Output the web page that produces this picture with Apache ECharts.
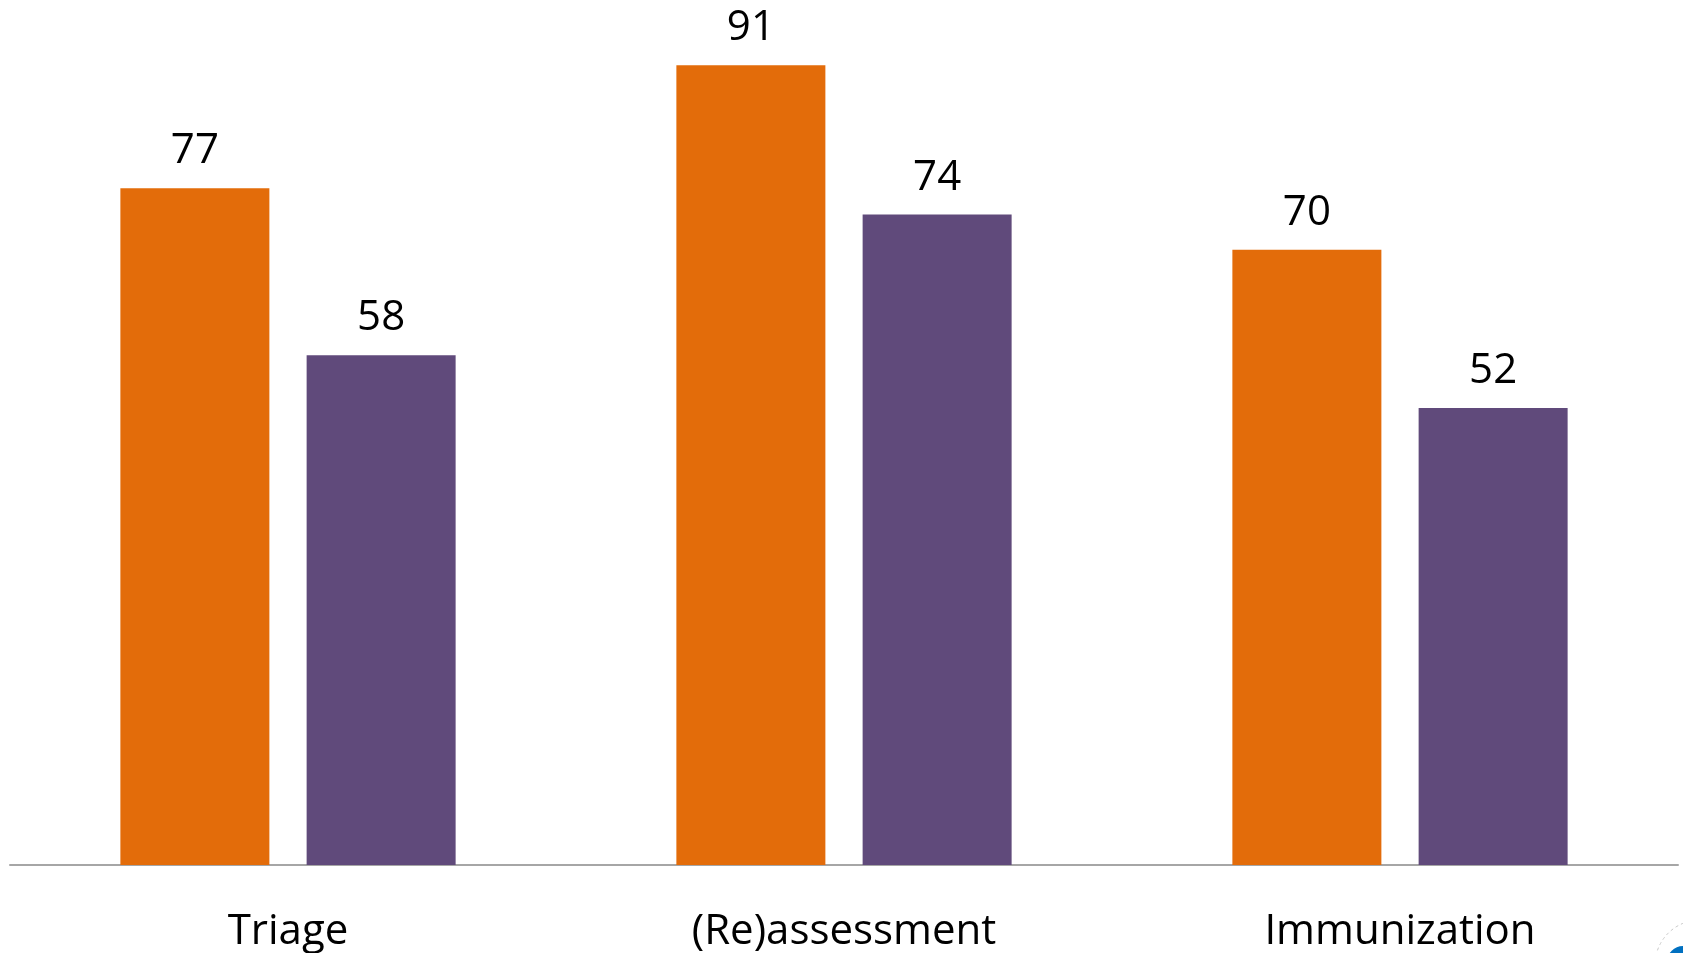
<!DOCTYPE html>
<html><head><meta charset="utf-8">
<script src="https://cdn.jsdelivr.net/npm/echarts@6/dist/echarts.min.js"></script>
<style>html,body{margin:0;padding:0;background:#fff}#c{width:1683px;height:953px}</style>
</head><body><div id="c"></div>
<script>
const categories = ['Triage', '(Re)assessment', 'Immunization'];
const seriesA = [77, 91, 70];
const seriesB = [58, 74, 52];
const chart = echarts.init(document.getElementById('c'));
const FONT = 'Open Sans';
const lbl = {show: true, position: 'top', distance: 16, fontFamily: FONT, fontSize: 42, color: '#000'};
chart.setOption({
  animation: false,
  grid: {left: 10, right: 5, top: 30, bottom: 88, containLabel: false},
  xAxis: {
    type: 'category', data: categories,
    axisLine: {lineStyle: {color: '#a6a6a6', width: 2}},
    axisTick: {show: false},
    axisLabel: {fontFamily: FONT, fontSize: 42, color: '#000', margin: 46}
  },
  yAxis: {type: 'value', min: 0, max: 95, show: false, splitLine: {show: false}},
  series: [
    {type: 'bar', data: seriesA, barWidth: 149, barGap: '25%', itemStyle: {color: '#E36C0A'}, label: lbl},
    {type: 'bar', data: seriesB, barWidth: 149, itemStyle: {color: '#604A7B'}, label: lbl}
  ],
  graphic: [
    {type: 'circle', shape: {cx: 1700, cy: 965, r: 45}, style: {fill: 'none', stroke: '#c8c8c8', lineWidth: 1, lineDash: [3, 3]}},
    {type: 'circle', shape: {cx: 1683, cy: 962, r: 16}, style: {fill: '#0070c0'}}
  ]
});
</script></body></html>
